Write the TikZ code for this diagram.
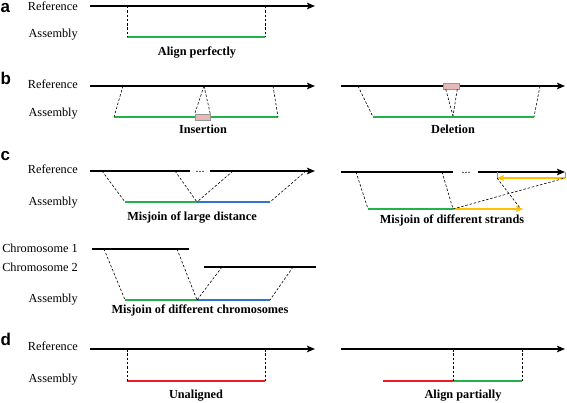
\documentclass[tikz,border=0pt]{standalone}
\usepackage{fontspec}
\setmainfont{Liberation Serif}
\newfontfamily\panelfont{Liberation Sans}
\usetikzlibrary{arrows.meta}
\definecolor{asmgreen}{RGB}{34,177,76}
\definecolor{asmblue}{RGB}{46,117,206}
\definecolor{asmred}{RGB}{237,28,36}
\definecolor{asmorange}{RGB}{255,192,0}
\definecolor{boxpink}{RGB}{230,185,184}
\definecolor{tickgray}{RGB}{150,150,150}
\begin{document}
\begin{tikzpicture}[x=1pt,y=-1pt,
  refline/.style={line width=1.4pt,black},
  refarrow/.style={refline,-{Stealth[length=8pt,width=6.5pt,inset=1.5pt]}},
  asm/.style={line width=1.8pt},
  orarrow/.style={asm,asmorange,-{Stealth[length=7pt,width=6pt,inset=1.5pt]}},
  link/.style={line width=0.6pt,dash pattern=on 2.5pt off 1.8pt},
  lab/.style={anchor=mid east,inner sep=0pt,font=\fontsize{12.3}{14}\selectfont},
  captxt/.style={anchor=mid,inner sep=0pt,font=\fontsize{12.3}{14}\selectfont\bfseries},
  dotstxt/.style={inner sep=0pt,anchor=base,font=\fontsize{12}{14}\selectfont},
  panel/.style={anchor=base west,inner sep=0pt,font=\fontsize{17}{19}\selectfont\panelfont\bfseries},
  pinkbox/.style={fill=boxpink,draw=tickgray,line width=0.5pt}]
\useasboundingbox (0,0) rectangle (567,403);

% ---------------- panel a ----------------
\node[panel] (pa) at (0.5,12.5) {a};
\node[lab] (aref) at (78,8) {Reference};
\node[lab] (aasm) at (78,35.5) {Assembly};
\coordinate (aR0) at (90,6); \coordinate (aR1) at (315,6);
\draw[refarrow] (aR0) -- (aR1);
\coordinate (aT0) at (127,6); \coordinate (aT1) at (265,6);
\coordinate (aA0) at (127,37); \coordinate (aA1) at (265,37);
\draw[asm,asmgreen] (aA0) -- (aA1);
\draw[link] (aT0) -- (aA0);
\draw[link] (aT1) -- (aA1);
\node[captxt] (acap) at (197,53.5) {Align perfectly};

% ---------------- panel b ----------------
\node[panel] (pb) at (0.5,85) {b};
\node[lab] (bref) at (78,86.5) {Reference};
\node[lab] (basm) at (78,114.5) {Assembly};
% insertion
\coordinate (bR0) at (90,86); \coordinate (bR1) at (315,86);
\draw[refarrow] (bR0) -- (bR1);
\coordinate (bA0) at (114,117); \coordinate (bA1) at (278,117);
\draw[asm,asmgreen] (bA0) -- (bA1);
\node[pinkbox,minimum width=15pt,minimum height=6pt,inner sep=0pt] (ins) at (202.5,117) {};
\coordinate (bT0) at (123,86); \coordinate (bT1) at (273,86); \coordinate (bTm) at (204,86);
\draw[link] (bT0) -- (bA0);
\draw[link] (bT1) -- (bA1);
\draw[link] (bTm) -- (ins.north west);
\draw[link] (bTm) -- (ins.north east);
\node[captxt] (bcap) at (203,131.5) {Insertion};
% deletion
\coordinate (dR0) at (341,86); \coordinate (dR1) at (565,86);
\draw[refarrow] (dR0) -- (dR1);
\node[pinkbox,minimum width=16pt,minimum height=6pt,inner sep=0pt] (del) at (451,86) {};
\coordinate (dA0) at (373,117); \coordinate (dA1) at (534,117); \coordinate (dAm) at (453,116);
\draw[asm,asmgreen] (dA0) -- (dA1);
\coordinate (dT0) at (358,86); \coordinate (dT1) at (540,86);
\draw[link] (dT0) -- (dA0);
\draw[link] (dT1) -- (dA1);
\draw[link] ([xshift=3pt]del.south west) -- (dAm);
\draw[link] ([xshift=-2pt]del.south east) -- (dAm);
\node[captxt] (dcap) at (453,131.5) {Deletion};

% ---------------- panel c ----------------
\node[panel] (pc) at (0.5,160.5) {c};
\node[lab] (cref) at (78,171.5) {Reference};
\node[lab] (casm) at (78,203.5) {Assembly};
% large distance
\coordinate (cR0) at (90,171); \coordinate (cR1) at (190,171);
\coordinate (cR2) at (210,171); \coordinate (cR3) at (315,171);
\draw[refline] (cR0) -- (cR1);
\node[dotstxt] (cdots) at (200,172.5) {...};
\draw[refarrow] (cR2) -- (cR3);
\coordinate (cA0) at (125,202); \coordinate (cAm) at (197,202); \coordinate (cA1) at (270,202);
\draw[asm,asmgreen] (cA0) -- (cAm);
\draw[asm,asmblue] (cAm) -- (cA1);
\coordinate (cT0) at (102,171); \coordinate (cT1) at (175,171);
\coordinate (cT2) at (233,171); \coordinate (cT3) at (306,171);
\draw[link] (cT0) -- (cA0);
\draw[link] (cT1) -- (cAm);
\draw[link] (cT2) -- (cAm);
\draw[link] (cT3) -- (cA1);
\node[captxt] (ccap) at (192,218.5) {Misjoin of large distance};
% different strands
\coordinate (sR0) at (341,172); \coordinate (sR1) at (453,172);
\coordinate (sR2) at (478,172); \coordinate (sR3) at (565,172);
\draw[refline] (sR0) -- (sR1);
\node[dotstxt] (sdots) at (466,173.5) {...};
\draw[refarrow] (sR2) -- (sR3);
\coordinate (sO0) at (565,178); \coordinate (sO1) at (497,178);
\coordinate (sK0) at (565,172.5); \coordinate (sK1) at (497,172.5);
\draw[tickgray,line width=0.7pt] (sK0) -- (sO0);
\draw[tickgray,line width=0.7pt] (sK1) -- (sO1);
\draw[orarrow] (sO0) -- (sO1);
\coordinate (sA0) at (368,209); \coordinate (sAm) at (453,209); \coordinate (sA1) at (523,209);
\coordinate (sAx) at (520,208);
\draw[asm,asmgreen] (sA0) -- (sAm);
\draw[orarrow] (sAm) -- (sA1);
\coordinate (sT0) at (356,172); \coordinate (sT1) at (442,172);
\draw[link] (sT0) -- (sA0);
\draw[link] (sT1) -- (sAm);
\draw[link] (sAm) -- (sO0);
\draw[link] (sO1) -- (sAx);
\node[captxt] (scap) at (452,221.5) {Misjoin of different strands};

% different chromosomes
\node[lab] (hc1) at (78,250.5) {Chromosome 1};
\node[lab] (hc2) at (78,269) {Chromosome 2};
\node[lab] (hasm) at (78,300) {Assembly};
\coordinate (h1a) at (92,249); \coordinate (h1b) at (189,249);
\coordinate (h2a) at (204,267); \coordinate (h2b) at (316,267);
\draw[refline] (h1a) -- (h1b);
\draw[refline] (h2a) -- (h2b);
\coordinate (hA0) at (125,300); \coordinate (hAm) at (197,300); \coordinate (hA1) at (270,300);
\draw[asm,asmgreen] (hA0) -- (hAm);
\draw[asm,asmblue] (hAm) -- (hA1);
\coordinate (hT0) at (104,249); \coordinate (hT1) at (177,249);
\coordinate (hT2) at (222,267); \coordinate (hT3) at (293,267);
\draw[link] (hT0) -- (hA0);
\draw[link] (hT1) -- (hAm);
\draw[link] (hT2) -- (hAm);
\draw[link] (hT3) -- (hA1);
\node[captxt] (hcap) at (200,311.5) {Misjoin of different chromosomes};

% ---------------- panel d ----------------
\node[panel] (pd) at (0.5,345) {d};
\node[lab] (eref) at (78,348.5) {Reference};
\node[lab] (easm) at (78,380.5) {Assembly};
% unaligned
\coordinate (eR0) at (90,349); \coordinate (eR1) at (315,349);
\draw[refarrow] (eR0) -- (eR1);
\coordinate (eT0) at (127,349); \coordinate (eT1) at (265,349);
\coordinate (eA0) at (127,381); \coordinate (eA1) at (265,381);
\draw[asm,asmred] (eA0) -- (eA1);
\draw[link] (eT0) -- (eA0);
\draw[link] (eT1) -- (eA1);
\node[captxt] (ecap) at (196,396.5) {Unaligned};
% partially
\coordinate (fR0) at (341,349); \coordinate (fR1) at (565,349);
\draw[refarrow] (fR0) -- (fR1);
\coordinate (fA0) at (383,381); \coordinate (fAm) at (453,381); \coordinate (fA1) at (522,381);
\draw[asm,asmred] (fA0) -- (fAm);
\draw[asm,asmgreen] (fAm) -- (fA1);
\coordinate (fT0) at (453,349); \coordinate (fT1) at (522,349);
\draw[link] (fT0) -- (fAm);
\draw[link] (fT1) -- (fA1);
\node[captxt] (fcap) at (463,396.5) {Align partially};
\end{tikzpicture}
\end{document}
